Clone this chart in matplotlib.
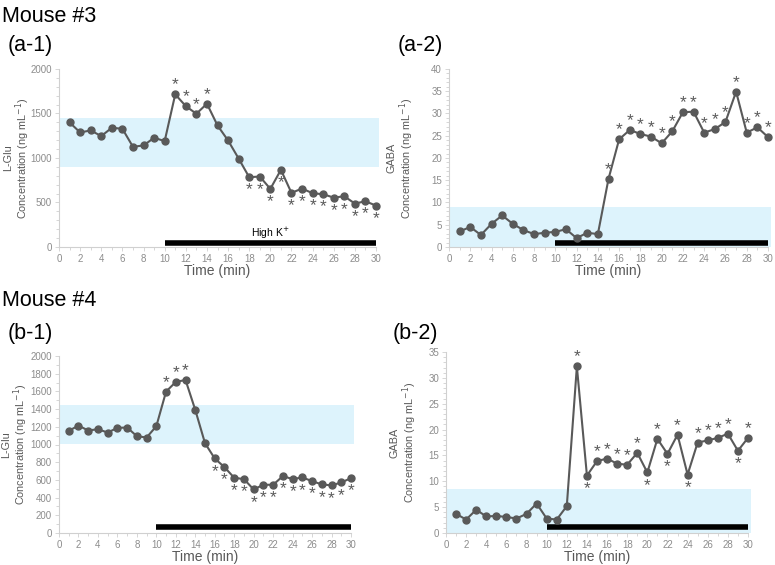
import matplotlib
matplotlib.use("Agg")
import matplotlib.pyplot as plt
from matplotlib.ticker import MultipleLocator

plt.rcParams['font.family'] = ['Liberation Sans', 'DejaVu Sans']

time = list(range(1, 31))

glu3 = [1400, 1287, 1310, 1246, 1340, 1328, 1126, 1141, 1227, 1190,
        1715, 1583, 1497, 1610, 1366, 1197, 994, 784, 792, 653,
        867, 608, 657, 604, 593, 555, 570, 488, 514, 465]
gaba3 = [3.5, 4.5, 2.7, 5.2, 7.1, 5.2, 3.8, 2.9, 3.2, 3.4,
         4.0, 2.0, 3.2, 2.9, 15.3, 24.2, 26.3, 25.4, 24.8, 23.3,
         26.0, 30.3, 30.4, 25.7, 26.5, 28.1, 34.9, 25.7, 26.9, 24.7]
glu4 = [1154, 1214, 1158, 1173, 1135, 1188, 1192, 1094, 1079, 1207,
        1598, 1707, 1729, 1391, 1015, 842, 744, 624, 609, 492,
        545, 545, 643, 609, 628, 586, 549, 538, 571, 620]
gaba4 = [3.7, 2.6, 4.5, 3.2, 3.3, 3.1, 2.8, 3.7, 5.7, 2.8,
         2.6, 5.2, 32.2, 11.1, 13.9, 14.4, 13.4, 13.2, 15.5, 11.7,
         18.2, 15.3, 19.0, 11.3, 17.5, 17.9, 18.4, 19.2, 15.9, 18.4]

# significance markers: +1 above, -1 below, 0 none
sig_glu3 = [0]*10 + [1, 1, 1, 1, 0, 0, 0] + [-1]*13
sig_gaba3 = [0]*14 + [1]*16
sig_glu4 = [0]*10 + [1, 1, 1, 0, 0] + [-1]*15
sig_gaba4 = [0]*12 + [1, -1, 1, 1, 1, 1, 1, -1, 1, -1, 1, -1, 1, 1, 1, 1, -1, 1]

bands = [(900, 1450), (0, 8.9), (1010, 1450), (0, 8.5)]
bar_levels = [45, 0.9, 68, 1.2]
ylims = [2000, 40, 2000, 35]
ymajor = [500, 5, 200, 5]
yminor = [100, 1, 100, 1]
ylabels = ["L-Glu\nConcentration (ng mL$^{-1}$)", "GABA\nConcentration (ng mL$^{-1}$)",
           "L-Glu\nConcentration (ng mL$^{-1}$)", "GABA\nConcentration (ng mL$^{-1}$)"]
series = [glu3, gaba3, glu4, gaba4]
sigs = [sig_glu3, sig_gaba3, sig_glu4, sig_gaba4]

W, H = 775, 565
fig = plt.figure(figsize=(W/100, H/100), dpi=100)

rects = [(59, 376, 69, 247), (449, 768, 69, 247), (59, 351, 356, 533), (446, 748, 352, 533)]
label_x = [-0.084, -0.104, -0.099, -0.091]

grey = '#595959'
light = '#8c8c8c'
for i, (l, r, t, b) in enumerate(rects):
    ax = fig.add_axes([l/W, 1 - b/H, (r-l)/W, (b-t)/H])
    lo, hi = bands[i]
    ax.axhspan(lo, hi, xmin=0, xmax=1.01, color='#ddf3fc', zorder=0, clip_on=False, lw=0)
    ax.plot([10, 30], [bar_levels[i]]*2, color='black', lw=4, solid_capstyle='butt', zorder=2, clip_on=False)
    ax.plot(time, series[i], color=grey, lw=1.5, marker='o', ms=5, zorder=3, clip_on=False)
    for x, y, s in zip(time, series[i], sigs[i]):
        if s != 0:
            ax.annotate('*', (x, y), xytext=(0, 3.5 if s > 0 else -12.5), textcoords='offset points',
                        ha='center', va='baseline', fontsize=12.5, color=grey)
    ax.set_xlim(0, 30)
    ax.set_ylim(0, ylims[i])
    ax.xaxis.set_major_locator(MultipleLocator(2))
    ax.xaxis.set_minor_locator(MultipleLocator(1))
    ax.yaxis.set_major_locator(MultipleLocator(ymajor[i]))
    ax.yaxis.set_minor_locator(MultipleLocator(yminor[i]))
    for s in ['top', 'right']:
        ax.spines[s].set_visible(False)
    for s in ['left', 'bottom']:
        ax.spines[s].set_color('#d0d0d0')
        ax.spines[s].set_linewidth(0.8)
    ax.tick_params(which='both', colors='#d0d0d0', labelcolor=light, labelsize=7.0, length=2.5, width=0.6, pad=2.0)
    ax.tick_params(which='major', length=3)
    ax.set_xlabel('Time (min)', fontsize=10, color=grey, labelpad=0)
    ax.set_ylabel(ylabels[i], fontsize=7.8, color=grey, linespacing=1.05)
    ax.yaxis.set_label_coords(label_x[i], 0.5)
    if i == 0:
        ax.text(20, 157, 'High K$^{+}$', ha='center', va='center', fontsize=7.5, color='black')

fig.text(2/W, 1 - 16/H, 'Mouse #3', fontsize=15.5, va='center', ha='left')
fig.text(8/W, 1 - 46/H, '(a-1)', fontsize=15.5, va='center', ha='left')
fig.text(398/W, 1 - 46/H, '(a-2)', fontsize=15.5, va='center', ha='left')
fig.text(2/W, 1 - 301/H, 'Mouse #4', fontsize=15.5, va='center', ha='left')
fig.text(8/W, 1 - 333/H, '(b-1)', fontsize=15.5, va='center', ha='left')
fig.text(393/W, 1 - 333/H, '(b-2)', fontsize=15.5, va='center', ha='left')

fig.savefig('out.png', dpi=100)
